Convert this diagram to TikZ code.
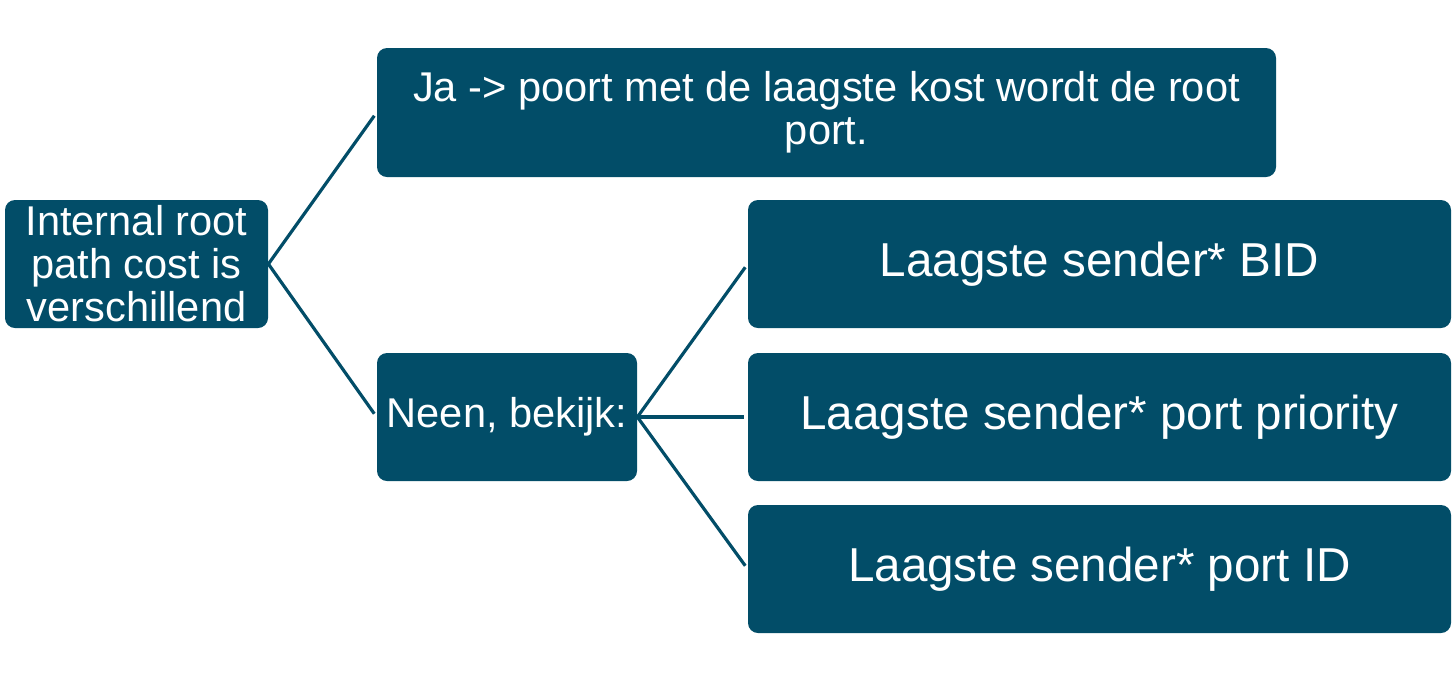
\documentclass[tikz,border=0pt]{standalone}
\usepackage{fontspec}
\setmainfont{Liberation Sans}
\definecolor{boxblue}{RGB}{2,77,104}
\begin{document}
\begin{tikzpicture}[x=0.5pt,y=-0.5pt,
		box/.style={fill=boxblue, rounded corners=5pt, text=white, align=center, inner sep=0pt},
		small/.style={font=\fontsize{20.8}{21.5}\selectfont},
		big/.style={font=\fontsize{23.8}{26}\selectfont},
		link/.style={draw=boxblue, line width=1.6pt}]
		\useasboundingbox (0,0) rectangle (1456,682);
		\node[box, small, minimum width=131.5pt, minimum height=64pt] (cost) at (136.5,264) {Internal root\\path cost is\\verschillend};
		\node[box, small, minimum width=449.5pt, minimum height=64.5pt] (ja) at (826.5,112.5) {Ja -> poort met de laagste kost wordt de root\\port.};
		\node[box, small, minimum width=130pt, minimum height=64pt] (neen) at (507,417) {Neen, bekijk:};
		\node[box, big, minimum width=351.5pt, minimum height=64pt] (bid) at (1099.5,264) {\raisebox{-1pt}{Laagste sender* BID}};
		\node[box, big, minimum width=351.5pt, minimum height=64pt] (prio) at (1099.5,417) {\raisebox{-1pt}{Laagste sender* port priority}};
		\node[box, big, minimum width=351.5pt, minimum height=64pt] (pid) at (1099.5,569) {\raisebox{-1pt}{Laagste sender* port ID}};

		\draw[link, shorten >=2pt] (cost.east) -- (ja.west);
		\draw[link, shorten >=2pt] (cost.east) -- (neen.west);
		\draw[link, shorten >=2pt] (neen.east) -- (bid.west);
		\draw[link, shorten >=2pt] (neen.east) -- (prio.west);
		\draw[link, shorten >=2pt] (neen.east) -- (pid.west);
	\end{tikzpicture}
\end{document}
